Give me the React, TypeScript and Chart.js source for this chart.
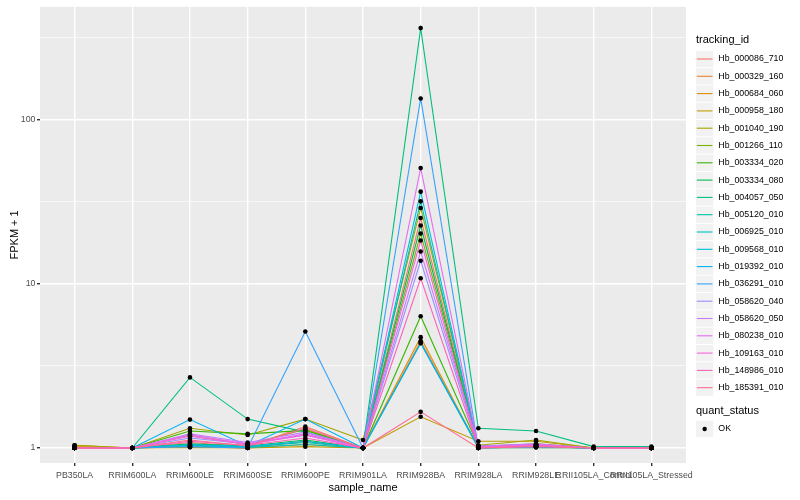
import React, { useEffect, useRef } from "react";
import { Chart, registerables } from "chart.js";

Chart.register(...registerables);

const categories = [
  "PB350LA",
  "RRIM600LA",
  "RRIM600LE",
  "RRIM600SE",
  "RRIM600PE",
  "RRIM901LA",
  "RRIM928BA",
  "RRIM928LA",
  "RRIM928LE",
  "RRII105LA_Control",
  "RRII105LA_Stressed",
];

const trackingIds = [
  "Hb_000086_710",
  "Hb_000329_160",
  "Hb_000684_060",
  "Hb_000958_180",
  "Hb_001040_190",
  "Hb_001266_110",
  "Hb_003334_020",
  "Hb_003334_080",
  "Hb_004057_050",
  "Hb_005120_010",
  "Hb_006925_010",
  "Hb_009568_010",
  "Hb_019392_010",
  "Hb_036291_010",
  "Hb_058620_040",
  "Hb_058620_050",
  "Hb_080238_010",
  "Hb_109163_010",
  "Hb_148986_010",
  "Hb_185391_010",
];

const seriesColors = [
  "#F8766D", "#EA8331", "#D89000", "#C09B00", "#A3A500",
  "#7CAE00", "#39B600", "#00BB4E", "#00BF7D", "#00C1A3",
  "#00BFC4", "#00BAE0", "#00B0F6", "#35A2FF", "#9590FF",
  "#C77CFF", "#E76BF3", "#FA62DB", "#FF62BC", "#FF6C91",
];

// FPKM + 1 per sample (order of categories)
const hb000086_710 = [1.0, 1.0, 1.08, 1.02, 1.35, 1.0, 25.1, 1.02, 1.05, 1.0, 1.0];
const hb000329_160 = [1.01, 1.0, 1.03, 1.0, 1.1, 1.0, 4.47, 1.01, 1.02, 1.0, 1.0];
const hb000684_060 = [1.02, 1.0, 1.02, 1.0, 1.05, 1.0, 4.73, 1.0, 1.01, 1.0, 1.0];
const hb000958_180 = [1.04, 1.0, 1.01, 1.0, 1.02, 1.0, 1.55, 1.1, 1.1, 1.0, 1.0];
const hb001040_190 = [1.04, 1.0, 1.32, 1.2, 1.5, 1.12, 28.9, 1.04, 1.12, 1.0, 1.0];
const hb001266_110 = [1.0, 1.0, 1.2, 1.05, 1.3, 1.0, 20.2, 1.02, 1.06, 1.0, 1.0];
const hb003334_020 = [1.0, 1.0, 1.27, 1.22, 1.28, 1.0, 6.34, 1.03, 1.05, 1.0, 1.0];
const hb003334_080 = [1.0, 1.0, 1.06, 1.03, 1.12, 1.0, 22.6, 1.01, 1.03, 1.0, 1.0];
const hb004057_050 = [1.0, 1.0, 2.69, 1.5, 1.25, 1.0, 359, 1.32, 1.27, 1.02, 1.02];
const hb005120_010 = [1.0, 1.0, 1.04, 1.02, 1.08, 1.0, 31.7, 1.0, 1.02, 1.0, 1.0];
const hb006925_010 = [1.0, 1.0, 1.03, 1.01, 1.05, 1.0, 4.35, 1.0, 1.01, 1.0, 1.0];
const hb009568_010 = [1.0, 1.0, 1.05, 1.02, 1.1, 1.0, 36.3, 1.01, 1.02, 1.0, 1.0];
const hb019392_010 = [1.0, 1.0, 1.49, 1.03, 1.5, 1.0, 4.35, 1.02, 1.03, 1.0, 1.0];
const hb036291_010 = [1.0, 1.0, 1.02, 1.0, 5.12, 1.0, 134, 1.0, 1.02, 1.0, 1.0];
const hb058620_040 = [1.0, 1.0, 1.15, 1.06, 1.2, 1.0, 13.8, 1.01, 1.04, 1.0, 1.0];
const hb058620_050 = [1.0, 1.0, 1.22, 1.08, 1.25, 1.0, 15.7, 1.03, 1.06, 1.0, 1.0];
const hb080238_010 = [1.0, 1.0, 1.2, 1.06, 1.22, 1.0, 50.5, 1.02, 1.05, 1.0, 1.0];
const hb109163_010 = [1.0, 1.0, 1.18, 1.05, 1.2, 1.0, 18.3, 1.01, 1.04, 1.0, 1.0];
const hb148986_010 = [1.0, 1.0, 1.1, 1.04, 1.15, 1.0, 10.8, 1.0, 1.03, 1.0, 1.0];
const hb185391_010 = [1.0, 1.0, 1.12, 1.03, 1.32, 1.0, 1.66, 1.0, 1.02, 1.0, 1.0];

const seriesValues = [
  hb000086_710, hb000329_160, hb000684_060, hb000958_180, hb001040_190,
  hb001266_110, hb003334_020, hb003334_080, hb004057_050, hb005120_010,
  hb006925_010, hb009568_010, hb019392_010, hb036291_010, hb058620_040,
  hb058620_050, hb080238_010, hb109163_010, hb148986_010, hb185391_010,
];

const majorYTicks = [1, 10, 100];
const minorYTicks = [3.1623, 31.623, 316.23];
const quantStatus = ["OK"];

const FONT = '"Liberation Sans", Arial, Helvetica, sans-serif';

const panelBackground = {
  id: "panelBackground",
  beforeDraw(chart: any) {
    const { ctx, chartArea: a } = chart;
    ctx.save();
    ctx.fillStyle = "#EBEBEB";
    ctx.fillRect(a.left, a.top, a.right - a.left, a.bottom - a.top);
    ctx.restore();
  },
};

const ggLegend = {
  id: "ggLegend",
  afterDraw(chart: any) {
    const ctx = chart.ctx;
    const x0 = chart.chartArea.right + 10;
    const step = 17.3;
    const key = 17.3;
    ctx.save();
    ctx.textAlign = "left";
    ctx.textBaseline = "middle";
    ctx.fillStyle = "#000";
    ctx.font = `11px ${FONT}`;
    ctx.fillText("tracking_id", x0, 40);
    trackingIds.forEach((id, i) => {
      const cy = 59 + i * step;
      ctx.fillStyle = "#F2F2F2";
      ctx.fillRect(x0, cy - key / 2 + 0.5, key, key - 1);
      ctx.strokeStyle = seriesColors[i];
      ctx.lineWidth = 1.1;
      ctx.beginPath();
      ctx.moveTo(x0 + 0.8, cy);
      ctx.lineTo(x0 + key - 0.8, cy);
      ctx.stroke();
      ctx.fillStyle = "#000";
      ctx.font = `8.8px ${FONT}`;
      ctx.fillText(id, x0 + key + 5, cy);
    });
    ctx.font = `11px ${FONT}`;
    ctx.fillText("quant_status", x0, 411);
    quantStatus.forEach((q, i) => {
      const cy = 429 + i * step;
      ctx.fillStyle = "#F2F2F2";
      ctx.fillRect(x0, cy - key / 2 + 0.5, key, key - 1);
      ctx.fillStyle = "#000";
      ctx.beginPath();
      ctx.arc(x0 + key / 2, cy, 2.2, 0, Math.PI * 2);
      ctx.fill();
      ctx.font = `8.8px ${FONT}`;
      ctx.fillText(q, x0 + key + 5, cy);
    });
    ctx.restore();
  },
};

export default function App() {
  const canvasRef = useRef<HTMLCanvasElement | null>(null);

  useEffect(() => {
    if (!canvasRef.current) return;
    const lineSets = seriesValues.map((vals, s) => ({
      label: trackingIds[s],
      data: vals.map((v, i) => ({ x: i, y: v })),
      borderColor: seriesColors[s],
      backgroundColor: seriesColors[s],
      borderWidth: 1.1,
      pointRadius: 0,
      fill: false,
      tension: 0,
      order: -s,
    }));
    const pointSet = {
      label: "points",
      data: seriesValues.flatMap((vals) => vals.map((v, i) => ({ x: i, y: v }))),
      showLine: false,
      pointRadius: 2.3,
      pointBackgroundColor: "#000",
      pointBorderColor: "#000",
      pointBorderWidth: 0,
      borderColor: "#000",
      order: -100,
    };

    const isMajor = (v: number) => majorYTicks.some((m) => Math.abs(m - v) < 1e-6);

    const chart = new Chart(canvasRef.current, {
      type: "line",
      data: { datasets: [...lineSets, pointSet] as any },
      plugins: [panelBackground, ggLegend],
      options: {
        animation: false,
        responsive: false,
        maintainAspectRatio: false,
        events: [],
        layout: { padding: { left: 0, top: 5, right: 114, bottom: 0 } },
        plugins: {
          legend: { display: false },
          tooltip: { enabled: false },
        },
        scales: {
          x: {
            type: "linear",
            min: -0.6,
            max: 10.6,
            afterBuildTicks: (scale: any) => {
              scale.ticks = categories.map((_, i) => ({ value: i }));
            },
            afterFit: (scale: any) => {
              scale.height = 37;
            },
            ticks: {
              autoSkip: false,
              maxRotation: 0,
              minRotation: 0,
              padding: 4,
              color: "#4D4D4D",
              font: { family: FONT, size: 8.8 },
              callback: (v: any) => categories[v as number] ?? "",
            },
            grid: {
              color: "#FFFFFF",
              lineWidth: 1.4,
              drawTicks: true,
              tickLength: 3,
              tickColor: "#333333",
            },
            border: { display: false },
            title: {
              display: true,
              text: "sample_name",
              color: "#000",
              font: { family: FONT, size: 11 },
              padding: { top: 0, bottom: 5 },
            },
          },
          y: {
            type: "logarithmic",
            min: 0.811,
            max: 484,
            afterBuildTicks: (scale: any) => {
              scale.ticks = [...majorYTicks, ...minorYTicks]
                .sort((a, b) => a - b)
                .map((v) => ({ value: v, major: isMajor(v) }));
            },
            afterFit: (scale: any) => {
              scale.width = 40;
            },
            ticks: {
              autoSkip: false,
              padding: 1.5,
              color: "#4D4D4D",
              font: { family: FONT, size: 8.8 },
              callback: (v: any) => (isMajor(v as number) ? String(v) : ""),
            },
            grid: {
              color: "#FFFFFF",
              lineWidth: (c: any) => (c.tick && isMajor(c.tick.value) ? 1.4 : 0.6),
              drawTicks: true,
              tickLength: 3,
              tickColor: (c: any) => (c.tick && isMajor(c.tick.value) ? "#333333" : "rgba(0,0,0,0)"),
            },
            border: { display: false },
            title: {
              display: true,
              text: "FPKM + 1",
              color: "#000",
              font: { family: FONT, size: 11 },
              padding: { top: 8, bottom: 0 },
            },
          },
        },
      } as any,
    });
    return () => chart.destroy();
  }, []);

  return (
    <div style={{ position: "absolute", left: 0, top: 0, width: 800, height: 500, background: "#fff" }}>
      <canvas ref={canvasRef} width={800} height={500} style={{ width: 800, height: 500 }} />
    </div>
  );
}
